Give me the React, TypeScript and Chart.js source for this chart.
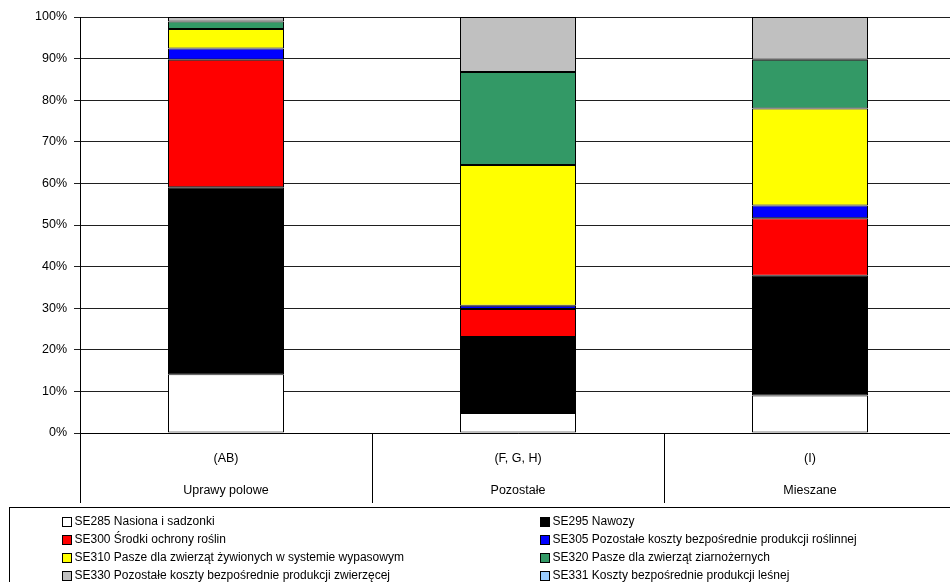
import React, { useEffect, useRef } from "react";
import { Chart, registerables } from "chart.js";

Chart.register(...registerables);

// Farm-type groups (code + name), drawn as two-line category labels
const categories: string[][] = [
  ["(AB)", "Uprawy polowe"],
  ["(F, G, H)", "Pozostałe"],
  ["(I)", "Mieszane"],
];

const yTickValues = [0, 10, 20, 30, 40, 50, 60, 70, 80, 90, 100];

// Share of direct costs (%), per group
const se285 = [14.1, 4.8, 9.0];
const se295 = [45.0, 18.3, 28.8];
const se300 = [30.6, 6.7, 13.8];
const se305 = [2.7, 0.8, 3.1];
const se310 = [4.7, 33.8, 23.3];
const se320 = [1.8, 22.4, 11.7];
const se330 = [1.1, 13.2, 10.3];
const se331 = [0, 0, 0];

const seriesLabels = [
  "SE285 Nasiona i sadzonki",
  "SE295 Nawozy",
  "SE300 Środki ochrony roślin",
  "SE305 Pozostałe koszty bezpośrednie produkcji roślinnej",
  "SE310 Pasze dla zwierząt żywionych w systemie wypasowym",
  "SE320 Pasze dla zwierząt ziarnożernych",
  "SE330 Pozostałe koszty bezpośrednie produkcji zwierzęcej",
  "SE331 Koszty bezpośrednie produkcji leśnej",
];

const seriesColors = [
  "#FFFFFF",
  "#000000",
  "#FF0000",
  "#0000FF",
  "#FFFF00",
  "#339966",
  "#C0C0C0",
  "#99CCFF",
];

const seriesValues = [se285, se295, se300, se305, se310, se320, se330, se331];

const FONT = "'Liberation Sans', Arial, sans-serif";

// Two-column boxed legend under the axis
const boxedLegend = {
  id: "boxedLegend",
  afterDraw(chart: any) {
    const ctx = chart.ctx;
    const top = chart.scales.x.bottom + 4;
    ctx.save();
    ctx.strokeStyle = "#000";
    ctx.lineWidth = 1;
    ctx.strokeRect(9.5, top + 0.5, chart.width + 20, chart.height);
    ctx.font = `12px ${FONT}`;
    ctx.textBaseline = "middle";
    ctx.textAlign = "left";
    chart.data.datasets.forEach((ds: any, i: number) => {
      const col = i % 2;
      const row = Math.floor(i / 2);
      const bx = col === 0 ? 62 : 540;
      const cy = top + 14.5 + row * 18;
      ctx.fillStyle = ds.backgroundColor;
      ctx.fillRect(bx + 0.5, Math.round(cy - 5) + 0.5, 9, 9);
      ctx.strokeStyle = "#000";
      ctx.strokeRect(bx + 0.5, Math.round(cy - 5) + 0.5, 9, 9);
      ctx.fillStyle = "#000";
      ctx.fillText(ds.label, bx + 12.5, cy + 0.5);
    });
    ctx.restore();
  },
};

export default function App() {
  const canvasRef = useRef<HTMLCanvasElement | null>(null);

  useEffect(() => {
    if (!canvasRef.current) return;
    const chart = new Chart(canvasRef.current, {
      type: "bar",
      data: {
        labels: categories,
        datasets: seriesValues.map((vals, i) => ({
          label: seriesLabels[i],
          data: vals,
          backgroundColor: seriesColors[i],
          borderColor: "#000",
          borderWidth: 1,
          borderSkipped: false,
          barPercentage: 116 / 292,
          categoryPercentage: 1,
        })),
      },
      options: {
        responsive: false,
        animation: false,
        layout: { padding: { top: 17, bottom: 79, left: 0, right: 0 } },
        plugins: {
          legend: { display: false },
          tooltip: { enabled: false },
        },
        scales: {
          x: {
            stacked: true,
            offset: true,
            afterFit: (scale: any) => {
              scale.height = 70;
            },
            grid: {
              display: true,
              offset: true,
              drawOnChartArea: false,
              drawTicks: true,
              tickLength: 70,
              color: "#000",
            },
            border: { display: true, color: "#000" },
            ticks: {
              autoSkip: false,
              maxRotation: 0,
              padding: -60,
              color: "#000",
              font: { family: FONT, size: 12.5, lineHeight: 32 / 12.5 },
            },
          },
          y: {
            stacked: true,
            min: 0,
            max: 100,
            afterFit: (scale: any) => {
              scale.width = 80;
            },
            afterBuildTicks: (scale: any) => {
              scale.ticks = yTickValues.map((v) => ({ value: v }));
            },
            grid: {
              color: "#1f1f1f",
              tickLength: 6,
            },
            border: { display: true, color: "#000" },
            ticks: {
              padding: 7,
              color: "#000",
              font: { family: FONT, size: 12.5 },
              callback: (v: any) => `${v}%`,
            },
          },
        },
      },
      plugins: [boxedLegend],
    });
    return () => chart.destroy();
  }, []);

  return (
    <div
      style={{
        position: "fixed",
        left: 0,
        top: 0,
        width: 950,
        height: 582,
        overflow: "hidden",
        background: "#fff",
      }}
    >
      <canvas ref={canvasRef} width={956} height={582} style={{ display: "block" }} />
    </div>
  );
}
